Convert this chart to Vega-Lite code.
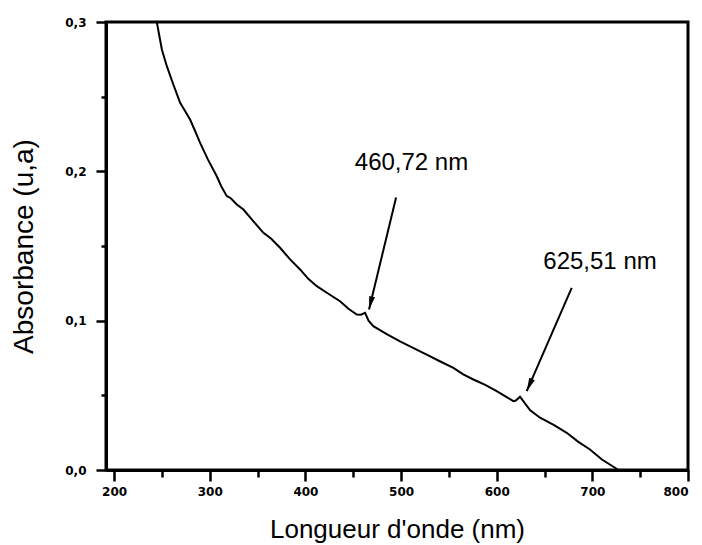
{
  "$schema": "https://vega.github.io/schema/vega-lite/v6.json",
  "width": 582,
  "height": 448,
  "autosize": "none",
  "padding": {"left": 106, "top": 22, "right": 14, "bottom": 75},
  "background": "white",
  "config": {
    "view": {"stroke": "black", "strokeWidth": 3},
    "axis": {
      "grid": false,
      "domainColor": "black",
      "domainWidth": 3,
      "tickColor": "black",
      "tickWidth": 2.5,
      "labelFont": "DejaVu Sans",
      "labelFontWeight": "bold",
      "labelFontSize": 12,
      "labelColor": "black",
      "titleFont": "Liberation Sans",
      "titleFontWeight": "normal",
      "titleColor": "black"
    }
  },
  "datasets": {
    "spectrum": [
      {"wavelength": 244.6, "absorbance": 0.300},
      {"wavelength": 249.9, "absorbance": 0.2816},
      {"wavelength": 255.1, "absorbance": 0.2704},
      {"wavelength": 262.0, "absorbance": 0.2580},
      {"wavelength": 269.0, "absorbance": 0.2459},
      {"wavelength": 274.0, "absorbance": 0.2405},
      {"wavelength": 279.4, "absorbance": 0.2347},
      {"wavelength": 284.0, "absorbance": 0.2280},
      {"wavelength": 289.9, "absorbance": 0.2191},
      {"wavelength": 298.0, "absorbance": 0.2080},
      {"wavelength": 307.3, "absorbance": 0.1967},
      {"wavelength": 312.0, "absorbance": 0.1900},
      {"wavelength": 317.8, "absorbance": 0.1834},
      {"wavelength": 322.0, "absorbance": 0.1820},
      {"wavelength": 328.0, "absorbance": 0.1780},
      {"wavelength": 335.2, "absorbance": 0.1744},
      {"wavelength": 345.0, "absorbance": 0.1670},
      {"wavelength": 356.1, "absorbance": 0.1588},
      {"wavelength": 364.0, "absorbance": 0.1550},
      {"wavelength": 373.5, "absorbance": 0.1488},
      {"wavelength": 384.0, "absorbance": 0.1410},
      {"wavelength": 394.4, "absorbance": 0.1343},
      {"wavelength": 403.0, "absorbance": 0.1280},
      {"wavelength": 411.9, "absorbance": 0.1231},
      {"wavelength": 424.0, "absorbance": 0.1180},
      {"wavelength": 436.2, "absorbance": 0.1130},
      {"wavelength": 445.0, "absorbance": 0.1080},
      {"wavelength": 453.7, "absorbance": 0.1041},
      {"wavelength": 458.0, "absorbance": 0.1040},
      {"wavelength": 462.4, "absorbance": 0.1053},
      {"wavelength": 466.0, "absorbance": 0.1000},
      {"wavelength": 471.0, "absorbance": 0.0963},
      {"wavelength": 485.0, "absorbance": 0.0910},
      {"wavelength": 498.9, "absorbance": 0.0862},
      {"wavelength": 512.0, "absorbance": 0.0820},
      {"wavelength": 526.8, "absorbance": 0.0773},
      {"wavelength": 540.0, "absorbance": 0.0730},
      {"wavelength": 554.7, "absorbance": 0.0684},
      {"wavelength": 565.0, "absorbance": 0.0640},
      {"wavelength": 575.6, "absorbance": 0.0606},
      {"wavelength": 588.0, "absorbance": 0.0570},
      {"wavelength": 600.0, "absorbance": 0.0528},
      {"wavelength": 610.0, "absorbance": 0.0490},
      {"wavelength": 617.4, "absorbance": 0.0461},
      {"wavelength": 620.0, "absorbance": 0.0465},
      {"wavelength": 624.4, "absorbance": 0.0490},
      {"wavelength": 628.0, "absorbance": 0.0460},
      {"wavelength": 635.0, "absorbance": 0.0400},
      {"wavelength": 645.3, "absorbance": 0.0350},
      {"wavelength": 660.0, "absorbance": 0.0300},
      {"wavelength": 673.2, "absorbance": 0.0249},
      {"wavelength": 685.0, "absorbance": 0.0190},
      {"wavelength": 697.5, "absorbance": 0.0137},
      {"wavelength": 710.0, "absorbance": 0.0070},
      {"wavelength": 723.7, "absorbance": 0.0015},
      {"wavelength": 727.0, "absorbance": 0.0}
    ],
    "peaks": [
      {"label": "460,72 nm", "tail_x": 494.8, "tail_y": 0.1825, "tip_x": 466.5, "tip_y": 0.1075, "text_x": 510.9, "text_y": 0.2056},
      {"label": "625,51 nm", "tail_x": 678.4, "tail_y": 0.1220, "tip_x": 631.4, "tip_y": 0.0528, "text_x": 708.0, "text_y": 0.1393}
    ]
  },
  "layer": [
    {
      "data": {"name": "spectrum"},
      "mark": {"type": "line", "color": "black", "strokeWidth": 2, "clip": true},
      "encoding": {
        "x": {
          "field": "wavelength", "type": "quantitative",
          "scale": {"domain": [191.5, 800], "nice": false, "zero": false},
          "axis": {
            "values": [200, 250, 300, 350, 400, 450, 500, 550, 600, 650, 700, 750, 800],
            "tickSize": {"condition": {"test": "datum.value % 100 === 0", "value": 11}, "value": 7},
            "labelExpr": "datum.value % 100 === 0 ? datum.label : ''",
            "labelPadding": 5,
            "title": "Longueur d'onde (nm)",
            "titleFontSize": 26,
            "titlePadding": 19
          }
        },
        "y": {
          "field": "absorbance", "type": "quantitative",
          "scale": {"domain": [0, 0.3], "nice": false},
          "axis": {
            "values": [0, 0.05, 0.1, 0.15, 0.2, 0.25, 0.3],
            "tickSize": {"condition": {"test": "abs(datum.value * 10 - round(datum.value * 10)) < 0.001", "value": 10}, "value": 5},
            "labelExpr": "abs(datum.value * 10 - round(datum.value * 10)) < 0.001 ? replace(format(datum.value, '.1f'), '.', ',') : ''",
            "labelPadding": 10,
            "title": "Absorbance (u,a)",
            "titleFontSize": 28,
            "titlePadding": 26
          }
        }
      }
    },
    {
      "data": {"name": "peaks"},
      "mark": {"type": "rule", "color": "black", "strokeWidth": 2},
      "encoding": {
        "x": {"field": "tail_x", "type": "quantitative"},
        "y": {"field": "tail_y", "type": "quantitative"},
        "x2": {"field": "tip_x"},
        "y2": {"field": "tip_y"}
      }
    },
    {
      "data": {"name": "peaks"},
      "transform": [{"filter": "datum.label === '460,72 nm'"}],
      "mark": {"type": "point", "shape": "M0,0L-0.5,-2.2L0.5,-2.2Z", "filled": true, "color": "black", "opacity": 1, "size": 144, "angle": 13.6},
      "encoding": {
        "x": {"field": "tip_x", "type": "quantitative"},
        "y": {"field": "tip_y", "type": "quantitative"}
      }
    },
    {
      "data": {"name": "peaks"},
      "transform": [{"filter": "datum.label === '625,51 nm'"}],
      "mark": {"type": "point", "shape": "M0,0L-0.5,-2.2L0.5,-2.2Z", "filled": true, "color": "black", "opacity": 1, "size": 144, "angle": 23.5},
      "encoding": {
        "x": {"field": "tip_x", "type": "quantitative"},
        "y": {"field": "tip_y", "type": "quantitative"}
      }
    },
    {
      "data": {"name": "peaks"},
      "mark": {"type": "text", "font": "Liberation Sans", "fontSize": 24, "color": "black", "align": "center", "baseline": "middle"},
      "encoding": {
        "x": {"field": "text_x", "type": "quantitative"},
        "y": {"field": "text_y", "type": "quantitative"},
        "text": {"field": "label"}
      }
    }
  ]
}
